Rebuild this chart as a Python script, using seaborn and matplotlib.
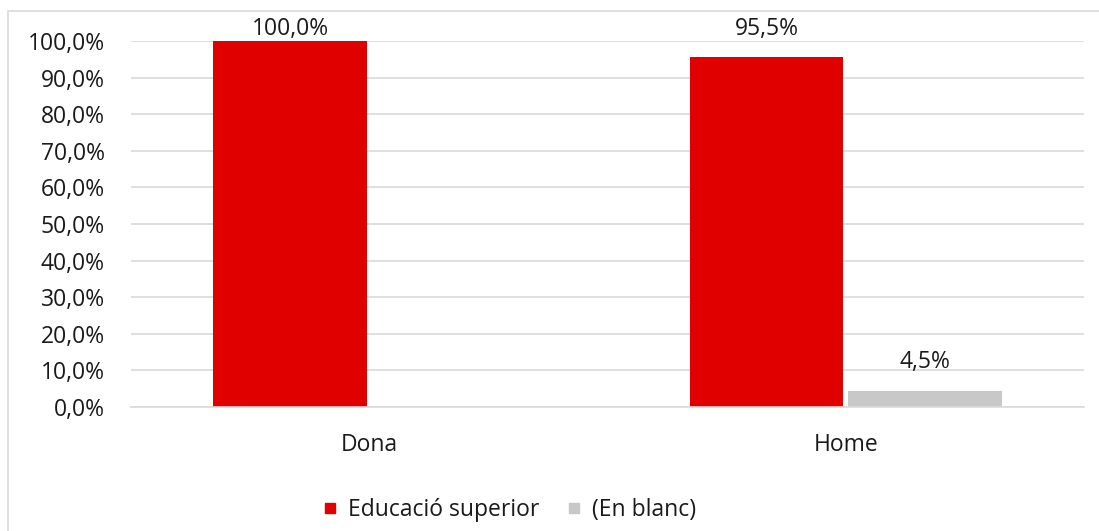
import matplotlib
matplotlib.use("Agg")
import matplotlib.pyplot as plt
import seaborn as sns
import pandas as pd
import numpy as np
from matplotlib.patches import Rectangle
from matplotlib.lines import Line2D

categories = ["Dona", "Home"]
series_names = ["Educació superior", "(En blanc)"]
educacio_superior = [100.0, 95.5]
en_blanc = [0.0, 4.5]
bar_labels_edu = ["100,0%", "95,5%"]
bar_labels_blank = ["", "4,5%"]
ytick_values = [0, 10, 20, 30, 40, 50, 60, 70, 80, 90, 100]
ytick_labels = ["0,0%", "10,0%", "20,0%", "30,0%", "40,0%", "50,0%",
                "60,0%", "70,0%", "80,0%", "90,0%", "100,0%"]
colors = ["#e10000", "#c8c8c8"]

df = pd.DataFrame({
    "Categoria": categories * 2,
    "Serie": [series_names[0]] * 2 + [series_names[1]] * 2,
    "Valor": educacio_superior + en_blanc,
})

sns.set_style("white")
plt.rcParams["font.family"] = ["Open Sans", "DejaVu Sans"]
FS = 16.5
TXT = "#1a1a1a"

fig = plt.figure(figsize=(10.99, 5.31), dpi=100)
ax = fig.add_axes([131 / 1099, 1 - 407 / 531, (1084 - 131) / 1099, (407 - 41) / 531])

sns.barplot(data=df, x="Categoria", y="Valor", hue="Serie", order=categories,
            hue_order=series_names, palette=colors, width=0.665, gap=0.03,
            saturation=1, legend=False, ax=ax, linewidth=0)

# Data labels: placed above bars; a label that would leave the plot area is kept inside (like Excel)
for cont, labs in zip(ax.containers, [bar_labels_edu, bar_labels_blank]):
    for patch, lab in zip(cont.patches, labs):
        if not lab:
            continue
        xc = patch.get_x() + patch.get_width() / 2
        top = patch.get_height()
        pad = 12 if top < 97 else 0
        ax.annotate(lab, (xc, top), xytext=(0, pad), textcoords="offset points",
                    ha="center", va="bottom", fontsize=FS, color=TXT,
                    annotation_clip=False)

ax.set_ylim(0, 100)
ax.set_xlim(-0.5, 1.5)
ax.set_yticks(ytick_values)
ax.set_yticklabels(ytick_labels)
ax.set_xlabel("")
ax.set_ylabel("")
ax.yaxis.grid(True, color="#d9d9d9", linewidth=1.2)
ax.set_axisbelow(True)
for s in ["top", "right", "left"]:
    ax.spines[s].set_visible(False)
ax.spines["bottom"].set_color("#d9d9d9")
ax.spines["bottom"].set_linewidth(1.2)
ax.tick_params(axis="y", length=0, pad=19, labelsize=FS, labelcolor=TXT)
ax.tick_params(axis="x", which="major", length=0, pad=19, labelsize=FS, labelcolor=TXT)
ax.set_xticks([-0.5, 0.5, 1.5], minor=True)
ax.tick_params(axis="x", which="minor", length=6, width=1.2, color="#d9d9d9", direction="out")

handles = [Line2D([0], [0], marker="s", linestyle="", markersize=7.5,
                  markerfacecolor=c, markeredgecolor=c) for c in colors]
fig.legend(handles, series_names, loc="center", bbox_to_anchor=(506 / 1099, 1 - 510 / 531),
           ncol=2, frameon=False, fontsize=FS, handletextpad=0.2, columnspacing=0.9,
           handlelength=1.2, labelcolor=TXT)

fig.patches.append(Rectangle((8 / 1099, -0.05), 1.2, 1 - 11 / 531 + 0.05,
                             transform=fig.transFigure, fill=False,
                             edgecolor="#d9d9d9", linewidth=1.2, zorder=0))

fig.savefig("out.png", dpi=100)
